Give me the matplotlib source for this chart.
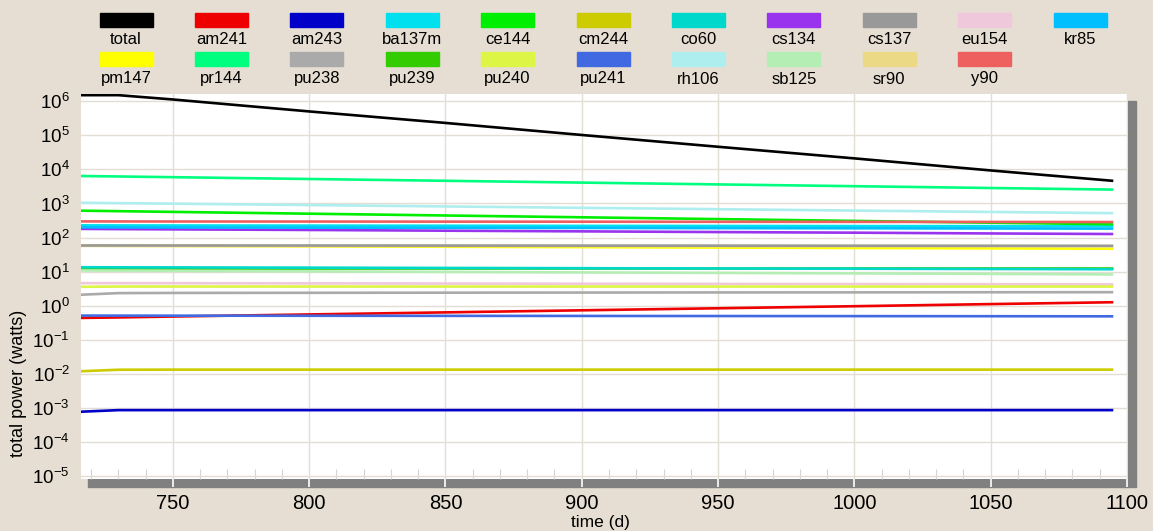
"""Decay power per nuclide, log scale, with the old style legend block on top."""

import matplotlib

matplotlib.use("Agg", force=True)
import matplotlib.pyplot as plt
from matplotlib.patches import Rectangle
from matplotlib.ticker import FixedLocator, LogLocator, MultipleLocator, NullLocator

W, H = 1153, 531
BG = "#E6DED2"

plt.rcParams["font.family"] = ["Liberation Sans", "DejaVu Sans"]
plt.rcParams["mathtext.fontset"] = "custom"
plt.rcParams["mathtext.rm"] = "Liberation Sans"
plt.rcParams["mathtext.it"] = "Liberation Sans:italic"
plt.rcParams["mathtext.bf"] = "Liberation Sans:bold"
plt.rcParams["axes.unicode_minus"] = False

# time grid (days) and power per nuclide (watts)
time_d = [716, 730, 750, 800, 850, 900, 950, 1000, 1050, 1095]
x_ticks = [750, 800, 850, 900, 950, 1000, 1050, 1100]

total = [1.5e6, 1.5e6, 1.12e6, 5.0e5, 2.3e5, 1.02e5, 4.6e4, 2.1e4, 9.3e3, 4.6e3]
am241 = [0.44, 0.455, 0.484, 0.557, 0.64, 0.736, 0.845, 0.97, 1.12, 1.27]
am243 = [7.8e-4, 8.7e-4, 8.7e-4, 8.7e-4, 8.7e-4, 8.7e-4, 8.7e-4, 8.7e-4, 8.7e-4, 8.7e-4]
ba137m = [228, 227, 226, 224, 222, 220, 219, 217, 216, 215]
ce144 = [615, 595, 566, 501, 444, 393, 348, 308, 273, 245]
cm244 = [0.012, 0.0133, 0.0134, 0.0134, 0.0134, 0.0134, 0.0134, 0.0134, 0.0134, 0.0134]
co60 = [13.5, 13.4, 13.34, 13.1, 12.86, 12.64, 12.4, 12.2, 11.97, 11.77]
cs134 = [180, 177, 174, 167, 159, 152, 145, 139, 132, 127]
cs137 = [58.6, 58.6, 58.5, 58.4, 58.2, 58.0, 57.8, 57.6, 57.4, 57.2]
eu154 = [4.6, 4.6, 4.58, 4.53, 4.48, 4.43, 4.38, 4.33, 4.28, 4.24]
kr85 = [200, 199, 198, 195, 193, 191, 189, 187, 185, 183]
pm147 = [58, 57.5, 56.9, 55.4, 53.8, 52.4, 50.9, 49.5, 48.2, 47.0]
pr144 = [6400, 6190, 5900, 5220, 4620, 4090, 3620, 3210, 2840, 2550]
pu238 = [2.1, 2.35, 2.38, 2.4, 2.42, 2.44, 2.46, 2.47, 2.49, 2.5]
pu239 = [12.6, 12.6, 12.6, 12.6, 12.6, 12.6, 12.6, 12.6, 12.6, 12.6]
pu240 = [3.6, 3.66, 3.66, 3.66, 3.66, 3.66, 3.66, 3.66, 3.66, 3.66]
pu241 = [0.515, 0.514, 0.512, 0.509, 0.506, 0.503, 0.5, 0.497, 0.494, 0.49]
rh106 = [1050, 1022, 986, 898, 818, 745, 679, 619, 564, 519]
sb125 = [10.8, 10.7, 10.55, 10.2, 9.85, 9.5, 9.2, 8.9, 8.6, 8.3]
sr90 = [57.0, 57.0, 56.9, 56.8, 56.7, 56.6, 56.4, 56.3, 56.2, 56.1]
y90 = [298, 297, 296, 295, 293, 292, 290, 289, 287, 285]

names = ["total", "am241", "am243", "ba137m", "ce144", "cm244", "co60", "cs134",
         "cs137", "eu154", "kr85", "pm147", "pr144", "pu238", "pu239", "pu240",
         "pu241", "rh106", "sb125", "sr90", "y90"]
series = [total, am241, am243, ba137m, ce144, cm244, co60, cs134, cs137, eu154,
          kr85, pm147, pr144, pu238, pu239, pu240, pu241, rh106, sb125, sr90, y90]
colors = ["#000000", "#EE0000", "#0000C8", "#00E0EE", "#00EE00", "#CCCC00",
          "#00D8CC", "#9933EE", "#999999", "#F0C8DC", "#00BFFF", "#FFFF00",
          "#00FF7F", "#AAAAAA", "#33CC00", "#DDF544", "#4169E1", "#AFEEEE",
          "#B4EEB4", "#EBD985", "#EE6060"]
on_top = {"co60", "cs137", "total"}


def px(x, y):
    return x / W, 1 - y / H


fig = plt.figure(figsize=(W / 100, H / 100), dpi=100, facecolor=BG)

# drop shadow behind the plot area
sx, sy = px(88, 487)
fig.add_artist(Rectangle((sx, sy), (1136 - 88) / W, (487 - 101) / H,
                         transform=fig.transFigure, color="#808080", zorder=0))

x0, y0 = px(81, 479)
ax = fig.add_axes([x0, y0, (1128 - 81) / W, (479 - 94) / H])
ax.set_facecolor("white")
for spine in ax.spines.values():
    spine.set_visible(False)

for name, values, color in zip(names, series, colors):
    ax.plot(time_d, values, color=color, linewidth=1.9,
            zorder=3 if name in on_top else 2, solid_capstyle="butt")

ax.set_yscale("log")
ax.set_ylim(10 ** -5.08, 10 ** 6.21)
ax.set_xlim(716.3, 1100.4)
ax.yaxis.set_major_locator(LogLocator(base=10, numticks=20))
ax.yaxis.set_minor_locator(NullLocator())
ax.xaxis.set_major_locator(FixedLocator(x_ticks))
ax.xaxis.set_minor_locator(MultipleLocator(10))
ax.grid(True, which="major", color="#E2DED4", linewidth=1.0, zorder=1)
ax.set_axisbelow(True)

ax.tick_params(axis="y", length=0, pad=8, labelsize=13.5)
ax.tick_params(axis="x", which="major", direction="out", length=6, width=1.2,
               color="white", pad=5, labelsize=14.5)
ax.tick_params(axis="x", which="minor", direction="in", length=7, width=0.8,
               color="#D4D4D4")

fig.text(*px(600, 522), "time (d)", ha="center", va="center", fontsize=12.5)
fig.text(*px(19, 383), "total power (watts)", ha="center", va="center",
         rotation=90, fontsize=13)

# legend block: two rows of swatches with the names underneath
for i, (name, color) in enumerate(zip(names, colors)):
    row, col = (0, i) if i < 11 else (1, i - 11)
    cx = 126 + col * 95.4
    top = 13 if row == 0 else 52
    lx, ly = px(cx - 26.5, top + 13.5)
    fig.add_artist(Rectangle((lx, ly), 53 / W, 13.5 / H, transform=fig.transFigure,
                             color=color, zorder=1))
    fig.text(*px(cx, top + 27), name, ha="center", va="center", fontsize=12)

fig.savefig("out.png", dpi=100, facecolor=BG)
